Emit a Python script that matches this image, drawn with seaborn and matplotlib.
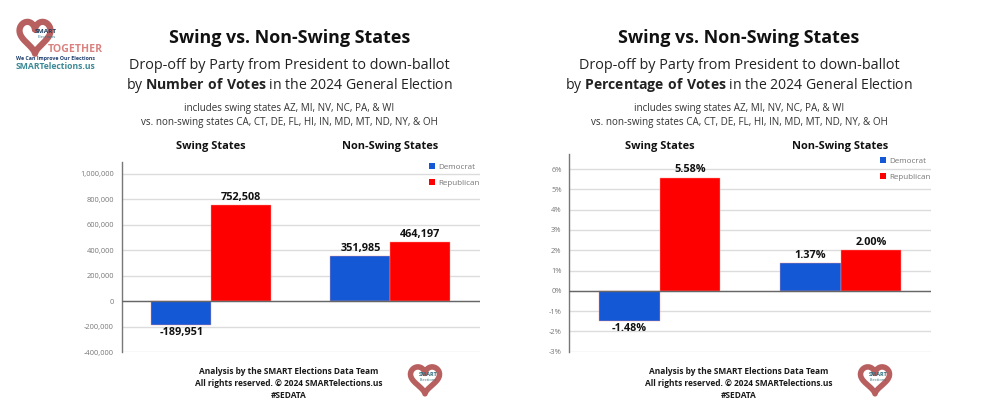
import numpy as np
import pandas as pd
import matplotlib
matplotlib.use('Agg')
import matplotlib.pyplot as plt
import seaborn as sns

groups = ['Swing States', 'Non-Swing States']
parties = ['Democrat', 'Republican']
votes_dem = [-189951, 351985]
votes_rep = [752508, 464197]
pct_dem = [-1.48, 1.37]
pct_rep = [5.58, 2.00]
votes_ticks = [-400000, -200000, 0, 200000, 400000, 600000, 800000, 1000000]
pct_ticks = [-3, -2, -1, 0, 1, 2, 3, 4, 5, 6]

title = 'Swing vs. Non-Swing States'
states_1 = 'includes swing states AZ, MI, NV, NC, PA, & WI'
states_2 = 'vs. non-swing states CA, CT, DE, FL, HI, IN, MD, MT, ND, NY, & OH'
footer = ['Analysis by the SMART Elections Data Team',
          'All rights reserved. © 2024 SMARTelections.us',
          '#SEDATA']

colors = {'Democrat': '#1558d6', 'Republican': '#fe0000'}
W, H = 1000, 417

sns.set_theme(style='white')
plt.rcParams['font.family'] = ['Open Sans', 'DejaVu Sans']
plt.rcParams['mathtext.fontset'] = 'custom'
plt.rcParams['mathtext.bf'] = 'Open Sans:bold'
plt.rcParams['mathtext.rm'] = 'Open Sans'


def make_frame(dem, rep):
    return pd.DataFrame({
        'group': groups * 2,
        'party': [parties[0]] * 2 + [parties[1]] * 2,
        'value': list(dem) + list(rep),
    })


def draw_chart(fig, box, dem, rep, ticks, ymin, ymax, tick_fmt, label_fmt, legend_y):
    # box is left, top, right, bottom in pixels
    l, t, r, b = box
    ax = fig.add_axes([l / W, 1 - b / H, (r - l) / W, (b - t) / H])
    ax.patch.set_alpha(0)
    sns.barplot(data=make_frame(dem, rep), x='group', y='value', hue='party',
                palette=colors, hue_order=parties, order=groups, width=0.67,
                gap=0, dodge=True, ax=ax, zorder=3, saturation=1, edgecolor='#ff9d94',
                linewidth=0.3, errorbar=None, estimator='sum')
    ax.set_xlim(-0.5, 1.5)
    ax.set_ylim(ymin, ymax)
    ax.set_yticks(ticks)
    ax.set_yticklabels([tick_fmt(v) for v in ticks])
    ax.set_xticks([])
    ax.set_xlabel('')
    ax.set_ylabel('')
    ax.tick_params(axis='y', labelsize=5.4, labelcolor='#777777', length=0, pad=5.5)
    ax.yaxis.grid(True, color='#dcdcdc', lw=1)
    ax.set_axisbelow(True)
    for s in ['top', 'right', 'bottom']:
        ax.spines[s].set_visible(False)
    ax.spines['left'].set_color('#777777')
    ax.spines['left'].set_linewidth(1)
    ax.axhline(0, color='#666666', lw=1, zorder=4)
    for cont in ax.containers:
        ax.bar_label(cont, fmt=label_fmt, padding=1.5, fontsize=7.8,
                     fontweight='bold', color='#111111', zorder=5)
    handles, labels = ax.get_legend_handles_labels()
    leg = ax.legend(handles, labels, loc='upper right', frameon=False, fontsize=5.8,
                    labelcolor='#777777', handlelength=0.7, handleheight=0.7,
                    handletextpad=0.45, labelspacing=1.0, borderaxespad=0,
                    bbox_to_anchor=(1.008, legend_y))
    for h in leg.legend_handles:
        h.set_edgecolor('none')
    return ax


def draw_heart(bg, cx, cy, w, h, lw):
    t = np.linspace(0, 2 * np.pi, 200)
    hx = 16 * np.sin(t) ** 3
    hy = 13 * np.cos(t) - 5 * np.cos(2 * t) - 2 * np.cos(3 * t) - np.cos(4 * t)
    bg.plot(cx + hx / 32 * w, cy - hy / 29 * h, color='#b8605f', lw=lw, zorder=2)


def draw_header(bg, cx, bold_part):
    bg.text(cx, 38, title, ha='center', va='center', fontsize=12.9,
            fontweight='bold', color='#111111')
    bg.text(cx, 65, 'Drop-off by Party from President to down-ballot',
            ha='center', va='center', fontsize=10.4, color='#222222')
    bg.text(cx, 85, 'by $\\mathbf{' + bold_part.replace(' ', '\\ ') + '}$ in the 2024 General Election',
            ha='center', va='center', fontsize=10.1, color='#222222')
    bg.text(cx, 108.5, states_1, ha='center', va='center', fontsize=7.1, color='#333333')
    bg.text(cx, 122, states_2, ha='center', va='center', fontsize=7.1, color='#333333')


def draw_footer(bg, cx, heart_x):
    for y, line in zip([372, 384, 395], footer):
        bg.text(cx, y, line, ha='center', va='center', fontsize=6.05,
                fontweight='bold', color='#1a1a1a')
    draw_heart(bg, heart_x, 378, 29, 27, 4)
    bg.text(heart_x + 3, 375, 'SMART', ha='center', va='center', fontsize=4,
            color='#2f6f80', fontweight='bold', zorder=3)
    bg.text(heart_x + 3, 380, 'Elections', ha='center', va='center', fontsize=3,
            color='#2f6f80', zorder=3)


fig = plt.figure(figsize=(10, 4.17), dpi=100)
bg = fig.add_axes([0, 0, 1, 1])
bg.set_xlim(0, W)
bg.set_ylim(H, 0)
bg.axis('off')

draw_header(bg, 289.5, 'Number of Votes')
draw_header(bg, 739, 'Percentage of Votes')
for cx in [211, 390, 660, 840]:
    bg.text(cx, 146, groups[0] if cx in (211, 660) else groups[1], ha='center',
            va='center', fontsize=7.9, fontweight='bold', color='#111111')

draw_chart(fig, (121.7, 162, 480, 352), votes_dem, votes_rep, votes_ticks,
           -400000, 1094000, lambda v: f'{v:,}', '{:,.0f}', 1.01)
draw_chart(fig, (569.3, 154, 931, 351.7), pct_dem, pct_rep, pct_ticks,
           -3, 6.74, lambda v: f'{v}%', '{:.2f}%', 1.0)

draw_footer(bg, 289, 425)
draw_footer(bg, 739, 875)

# top left logo
draw_heart(bg, 35, 35, 31, 32, 4.5)
bg.text(46, 31, 'SMART', ha='center', va='center', fontsize=4.6, color='#1f3f5f',
        fontweight='bold', zorder=3)
bg.text(47, 37, 'Elections', ha='center', va='center', fontsize=3.2, color='#2f6f80', zorder=3)
bg.text(75, 49, 'TOGETHER', ha='center', va='center', fontsize=7.6, color='#d9827f',
        fontweight='bold', zorder=3)
bg.text(56, 58, 'We Can Improve Our Elections', ha='center', va='center', fontsize=3.8,
        color='#1f3f6f', fontweight='bold')
bg.text(55, 66, 'SMARTelections.us', ha='center', va='center', fontsize=6.2,
        color='#3d8a97', fontweight='bold')

fig.savefig('out.png', dpi=100)
